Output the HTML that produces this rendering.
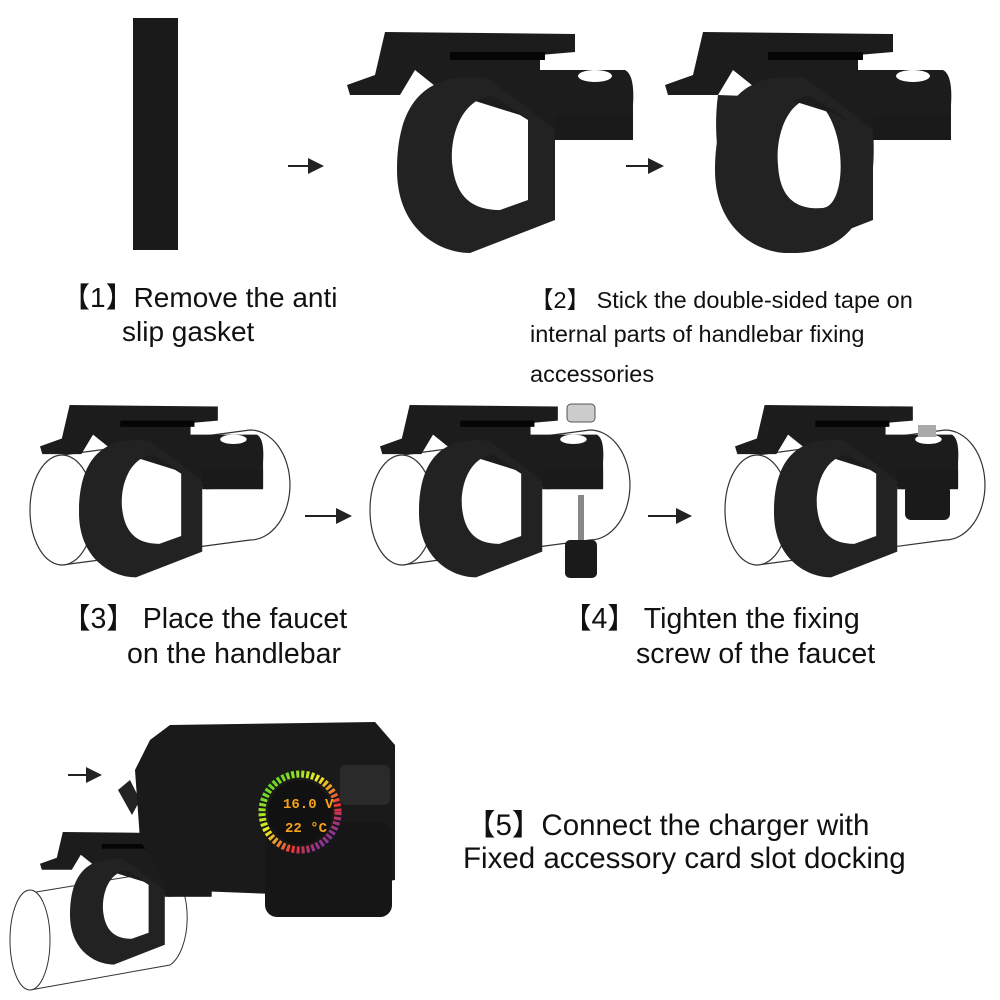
<!DOCTYPE html>
<html><head><style>
body{margin:0;background:#fff;width:1000px;height:1000px;overflow:hidden;position:relative;font-family:"Liberation Sans",sans-serif;}
.t{position:absolute;color:#111;white-space:nowrap;}
</style></head><body>
<svg width="1000" height="1000" style="position:absolute;left:0;top:0">
<defs>
<g id="clamp">
  <path d="M385,32 L575,34 L575,52 L540,55 L540,70 L625,70 Q635,75 633,105 L633,138 L560,140 L520,115 L440,90 L415,70 L400,95 L350,95 L347,85 L375,75 Z" fill="#1c1c1c"/>
  <path d="M487,78 C420,70 397,110 397,170 C397,230 440,253 470,253 L555,220 L555,130 L530,110 Z M492,96 C465,98 450,130 452,162 C455,195 470,210 500,210 L528,200 L528,118 Z" fill="#222" fill-rule="evenodd"/>
  <rect x="555" y="115" width="78" height="25" fill="#1a1a1a"/>
  <ellipse cx="595" cy="76" rx="17" ry="6" fill="#fff"/>
  <rect x="450" y="52" width="95" height="8" fill="#050505"/>
</g>
<g id="cyl">
  <path d="M62,455 L250,430 A40,55 0 0 1 250,540 L62,565" fill="#fff" stroke="#333" stroke-width="1.2"/>
  <ellipse cx="62" cy="510" rx="32" ry="55" fill="#fff" stroke="#333" stroke-width="1.2"/>
</g>
<marker id="ah" markerWidth="8" markerHeight="8" refX="7" refY="4" orient="auto"><path d="M0,0 L8,4 L0,8 Z" fill="#222"/></marker>
<linearGradient id="g1" x1="0" y1="0" x2="1" y2="1"><stop offset="0" stop-color="#2c2"/><stop offset=".4" stop-color="#ee2"/><stop offset=".7" stop-color="#e33"/><stop offset="1" stop-color="#33e"/></linearGradient>
</defs>
<rect x="133" y="18" width="45" height="232" fill="#1a1a1a"/>
<use href="#clamp"/>
<g transform="translate(318,0)">
  <path d="M400,95 C390,170 420,250 470,253 C540,255 560,200 555,130 L540,100 Z M495,98 C470,100 457,135 460,165 C462,200 480,210 505,208 C530,205 530,120 495,98 Z" fill="#222" fill-rule="evenodd"/>
  <use href="#clamp"/>
</g>
<line x1="288" y1="166" x2="322" y2="166" stroke="#222" stroke-width="2" marker-end="url(#ah)"/>
<line x1="626" y1="166" x2="662" y2="166" stroke="#222" stroke-width="2" marker-end="url(#ah)"/>
<use href="#cyl"/>
<g transform="translate(40,405) scale(0.78) translate(-347,-32)"><use href="#clamp"/></g>
<g transform="translate(340,0)"><use href="#cyl"/></g>
<g transform="translate(380,405) scale(0.78) translate(-347,-32)"><use href="#clamp"/></g>
<rect x="567" y="404" width="28" height="18" rx="4" fill="#ccc" stroke="#555"/>
<rect x="578" y="495" width="6" height="45" fill="#888"/>
<rect x="565" y="540" width="32" height="38" rx="5" fill="#1a1a1a"/>
<g transform="translate(695,0)"><use href="#cyl"/></g>
<g transform="translate(735,405) scale(0.78) translate(-347,-32)"><use href="#clamp"/></g>
<rect x="905" y="485" width="45" height="35" rx="6" fill="#1a1a1a"/>
<rect x="918" y="425" width="18" height="12" fill="#aaa"/>
<line x1="305" y1="516" x2="350" y2="516" stroke="#222" stroke-width="2" marker-end="url(#ah)"/>
<line x1="648" y1="516" x2="690" y2="516" stroke="#222" stroke-width="2" marker-end="url(#ah)"/>
<line x1="68" y1="775" x2="100" y2="775" stroke="#222" stroke-width="2" marker-end="url(#ah)"/>
<!-- bottom clamp + charger -->
<path d="M30,893 L170,870 A25,50 0 0 1 170,965 L30,990" fill="#fff" stroke="#333"/>
<ellipse cx="30" cy="940" rx="20" ry="50" fill="#fff" stroke="#333"/>
<g transform="translate(40,832) scale(0.6) translate(-347,-32)"><use href="#clamp"/></g>
<path d="M118,790 L130,780 L140,800 L132,815 Z" fill="#222"/>
<path d="M135,770 L150,740 L170,725 L375,722 L395,745 L395,880 L300,895 L170,890 L140,840 Z" fill="#1a1a1a"/>
<rect x="265" y="822" width="127" height="95" rx="12" fill="#161616"/>
<rect x="340" y="765" width="50" height="40" rx="6" fill="#2a2a2a"/>
<circle cx="300" cy="812" r="38" fill="none" stroke="url(#g1)" stroke-width="7" stroke-dasharray="3 2"/>
<circle cx="300" cy="812" r="32" fill="#111"/>
<text x="283" y="808" fill="#f6a21a" font-family="Liberation Mono" font-size="14" font-weight="bold">16.0 V</text>
<text x="285" y="832" fill="#f6a21a" font-family="Liberation Mono" font-size="14" font-weight="bold">22 °C</text>
</svg>
<div class="t" style="left:62px;top:276px;font-size:28px">【1】Remove the anti</div>
<div class="t" style="left:122px;top:316px;font-size:28px">slip gasket</div>
<div class="t" style="left:530px;top:281px;font-size:23.5px">【2】 Stick the double-sided tape on</div>
<div class="t" style="left:530px;top:321px;font-size:23.5px">internal parts of handlebar fixing</div>
<div class="t" style="left:530px;top:361px;font-size:23.5px">accessories</div>
<div class="t" style="left:62px;top:596px;font-size:28.5px">【3】 Place the faucet</div>
<div class="t" style="left:127px;top:638px;font-size:28.5px">on the handlebar</div>
<div class="t" style="left:563px;top:596px;font-size:28.5px">【4】 Tighten the fixing</div>
<div class="t" style="left:636px;top:638px;font-size:28.5px">screw of the faucet</div>
<div class="t" style="left:466px;top:802px;font-size:29.5px">【5】Connect the charger with</div>
<div class="t" style="left:463px;top:842px;font-size:29.5px">Fixed accessory card slot docking</div>
</body></html>
